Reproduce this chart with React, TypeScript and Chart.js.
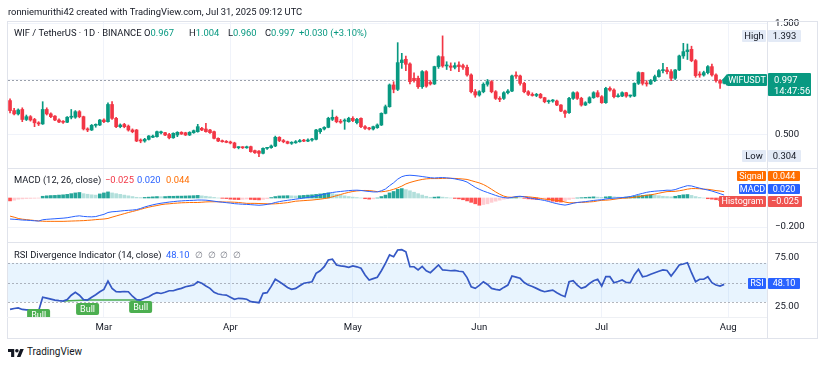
import React, { useEffect, useRef } from 'react';
import { Chart, registerables } from 'chart.js';

Chart.register(...registerables);

// ---------- DATA (daily, Feb 6 2025 -> Jul 31 2025) ----------
const opens = [
  0.81,0.72,0.69,0.73,0.64,0.665,0.64,0.61,0.60,0.73,
  0.69,0.67,0.635,0.62,0.615,0.66,0.66,0.71,0.665,0.555,
  0.545,0.587,0.59,0.635,0.62,0.775,0.65,0.575,0.595,0.58,
  0.545,0.545,0.455,0.446,0.461,0.48,0.485,0.52,0.521,0.505,
  0.475,0.50,0.524,0.52,0.50,0.521,0.53,0.56,0.554,0.545,
  0.53,0.47,0.446,0.44,0.434,0.428,0.386,0.387,0.385,0.395,
  0.359,0.355,0.335,0.38,0.386,0.401,0.479,0.45,0.44,0.425,
  0.43,0.44,0.45,0.445,0.455,0.461,0.53,0.554,0.569,0.641,
  0.659,0.62,0.625,0.62,0.65,0.611,0.65,0.575,0.56,0.554,
  0.566,0.59,0.695,0.755,0.951,0.911,1.152,1.182,1.14,1.011,
  1.011,0.935,1.071,0.975,0.96,1.116,1.206,1.122,1.122,1.11,
  1.131,1.125,1.11,1.041,0.89,0.86,0.89,0.957,0.981,0.89,
  0.83,0.83,0.881,0.896,1.032,1.032,0.965,0.89,0.866,0.856,
  0.866,0.836,0.80,0.806,0.806,0.77,0.716,0.701,0.83,0.881,
  0.83,0.77,0.791,0.836,0.881,0.845,0.791,0.92,0.905,0.845,
  0.851,0.881,0.851,0.851,0.965,1.062,0.965,0.96,0.99,1.026,
  1.08,1.086,1.071,1.011,1.086,1.212,1.251,1.272,1.17,1.045,
  1.04,1.062,1.116,1.041,0.99,0.967,
];
const highs = [
  0.825,0.74,0.735,0.745,0.68,0.675,0.65,0.62,0.80,0.745,
  0.70,0.675,0.645,0.63,0.665,0.73,0.72,0.72,0.67,0.565,
  0.595,0.60,0.64,0.645,0.79,0.80,0.66,0.60,0.605,0.59,
  0.555,0.55,0.465,0.47,0.495,0.50,0.535,0.535,0.525,0.515,
  0.52,0.53,0.53,0.525,0.53,0.545,0.596,0.57,0.605,0.55,
  0.535,0.475,0.455,0.45,0.445,0.435,0.395,0.395,0.40,0.40,
  0.365,0.36,0.385,0.39,0.41,0.49,0.485,0.46,0.445,0.44,
  0.45,0.46,0.46,0.465,0.47,0.55,0.56,0.575,0.66,0.725,
  0.67,0.64,0.645,0.66,0.665,0.65,0.655,0.585,0.57,0.58,
  0.60,0.70,0.77,0.96,0.98,1.332,1.236,1.21,1.15,1.06,
  1.03,1.08,1.08,0.99,1.12,1.215,1.393,1.16,1.15,1.15,
  1.16,1.14,1.13,1.05,0.91,0.90,0.97,1.0,0.99,0.90,
  0.845,0.89,0.91,1.04,1.07,1.04,0.975,0.90,0.88,0.875,
  0.875,0.84,0.815,0.82,0.815,0.775,0.725,0.84,0.89,0.89,
  0.84,0.80,0.845,0.89,0.90,0.855,0.93,0.935,0.915,0.87,
  0.89,0.885,0.86,0.97,1.07,1.065,0.99,1.0,1.04,1.09,
  1.146,1.11,1.09,1.09,1.22,1.326,1.32,1.30,1.18,1.07,
  1.075,1.125,1.14,1.05,1.0,1.004,
];
const lows = [
  0.70,0.68,0.68,0.62,0.63,0.625,0.575,0.585,0.595,0.68,
  0.655,0.63,0.61,0.605,0.61,0.645,0.65,0.655,0.545,0.53,
  0.54,0.57,0.585,0.61,0.615,0.64,0.565,0.565,0.565,0.535,
  0.52,0.44,0.43,0.435,0.455,0.475,0.48,0.51,0.495,0.465,
  0.47,0.485,0.505,0.495,0.495,0.515,0.525,0.54,0.525,0.515,
  0.465,0.44,0.435,0.43,0.42,0.38,0.375,0.378,0.38,0.345,
  0.335,0.304,0.33,0.37,0.38,0.395,0.44,0.43,0.42,0.415,
  0.425,0.435,0.44,0.44,0.445,0.455,0.515,0.545,0.565,0.63,
  0.61,0.605,0.551,0.615,0.62,0.60,0.565,0.55,0.545,0.545,
  0.56,0.585,0.69,0.75,0.88,0.90,1.10,1.08,0.96,0.975,
  0.92,0.92,0.93,0.95,0.955,1.10,1.11,1.09,1.08,1.095,
  1.07,1.09,1.03,0.88,0.84,0.85,0.88,0.94,0.88,0.82,
  0.80,0.82,0.87,0.89,1.01,0.95,0.88,0.855,0.85,0.845,
  0.83,0.79,0.785,0.795,0.765,0.71,0.659,0.695,0.82,0.82,
  0.76,0.765,0.785,0.83,0.84,0.785,0.785,0.895,0.835,0.84,
  0.845,0.84,0.84,0.845,0.955,0.95,0.94,0.955,0.98,1.02,
  1.06,1.05,0.99,1.0,1.08,1.19,1.18,1.16,1.02,1.02,
  1.03,1.05,1.03,0.975,0.92,0.96,
];
const closes = [
  0.72,0.69,0.725,0.64,0.665,0.635,0.61,0.60,0.73,0.69,
  0.665,0.635,0.617,0.615,0.66,0.66,0.71,0.665,0.555,0.545,
  0.587,0.59,0.635,0.62,0.775,0.65,0.575,0.59,0.575,0.545,
  0.53,0.446,0.446,0.461,0.491,0.49,0.53,0.521,0.50,0.475,
  0.515,0.524,0.509,0.50,0.524,0.539,0.575,0.545,0.53,0.521,
  0.47,0.446,0.44,0.434,0.428,0.386,0.387,0.385,0.39,0.35,
  0.34,0.335,0.38,0.386,0.401,0.479,0.45,0.44,0.425,0.43,
  0.44,0.45,0.445,0.455,0.461,0.545,0.554,0.569,0.65,0.659,
  0.62,0.615,0.63,0.65,0.63,0.641,0.575,0.56,0.555,0.575,
  0.59,0.695,0.755,0.951,0.911,1.152,1.176,1.137,0.981,0.99,
  0.935,1.071,0.94,0.96,1.116,1.206,1.122,1.125,1.11,1.125,
  1.116,1.11,1.041,0.89,0.86,0.89,0.957,0.981,0.89,0.83,
  0.821,0.881,0.896,1.032,1.03,0.965,0.89,0.866,0.856,0.866,
  0.836,0.80,0.806,0.806,0.77,0.716,0.695,0.83,0.881,0.83,
  0.77,0.791,0.836,0.881,0.845,0.791,0.92,0.905,0.845,0.851,
  0.881,0.851,0.851,0.965,1.062,0.965,0.96,0.99,1.026,1.08,
  1.082,1.071,1.011,1.086,1.212,1.251,1.266,1.17,1.035,1.04,
  1.062,1.116,1.041,0.99,0.967,0.997,
];
const macdLine = [
  -0.145,-0.147,-0.149,-0.152,-0.153,-0.155,-0.157,-0.159,-0.15,-0.147,
  -0.145,-0.143,-0.141,-0.139,-0.136,-0.131,-0.126,-0.123,-0.127,-0.129,
  -0.13,-0.128,-0.12,-0.113,-0.1,-0.095,-0.093,-0.09,-0.087,-0.085,
  -0.083,-0.08,-0.072,-0.062,-0.054,-0.047,-0.041,-0.036,-0.032,-0.028,
  -0.025,-0.022,-0.02,-0.018,-0.017,-0.016,-0.014,-0.014,-0.015,-0.018,
  -0.022,-0.026,-0.029,-0.032,-0.035,-0.039,-0.041,-0.043,-0.044,-0.046,
  -0.048,-0.05,-0.048,-0.044,-0.039,-0.031,-0.025,-0.02,-0.016,-0.012,
  -0.008,-0.004,0,0.004,0.008,0.014,0.02,0.026,0.032,0.038,
  0.042,0.045,0.048,0.051,0.053,0.054,0.052,0.048,0.045,0.042,
  0.042,0.05,0.062,0.085,0.105,0.13,0.147,0.155,0.157,0.155,
  0.152,0.148,0.144,0.14,0.138,0.14,0.141,0.139,0.136,0.132,
  0.126,0.12,0.11,0.092,0.074,0.06,0.048,0.038,0.028,0.018,
  0.009,0.003,0,0.004,0.01,0.012,0.008,0.002,-0.003,-0.008,
  -0.012,-0.017,-0.024,-0.032,-0.039,-0.045,-0.049,-0.044,-0.036,-0.031,
  -0.028,-0.025,-0.021,-0.017,-0.014,-0.012,-0.007,-0.003,-0.001,0.001,
  0.003,0.006,0.01,0.017,0.025,0.032,0.039,0.044,0.047,0.049,
  0.051,0.054,0.053,0.058,0.068,0.077,0.085,0.083,0.075,0.068,
  0.061,0.055,0.048,0.039,0.03,0.02,
];
const signalLine = [
  -0.125,-0.132,-0.141,-0.146,-0.149,-0.152,-0.155,-0.158,-0.16,-0.161,
  -0.161,-0.161,-0.161,-0.161,-0.16,-0.159,-0.158,-0.157,-0.156,-0.154,
  -0.152,-0.149,-0.147,-0.145,-0.141,-0.132,-0.124,-0.116,-0.108,-0.1,
  -0.093,-0.086,-0.078,-0.07,-0.063,-0.057,-0.052,-0.046,-0.042,-0.04,
  -0.037,-0.035,-0.033,-0.032,-0.031,-0.031,-0.031,-0.029,-0.027,-0.026,
  -0.026,-0.026,-0.027,-0.028,-0.028,-0.029,-0.031,-0.034,-0.037,-0.037,
  -0.037,-0.038,-0.039,-0.04,-0.041,-0.04,-0.038,-0.035,-0.032,-0.027,
  -0.022,-0.02,-0.018,-0.016,-0.014,-0.011,-0.008,-0.004,0.001,0.008,
  0.016,0.024,0.032,0.039,0.045,0.049,0.051,0.052,0.051,0.048,
  0.044,0.043,0.046,0.052,0.06,0.07,0.082,0.097,0.107,0.115,
  0.122,0.128,0.132,0.134,0.134,0.134,0.135,0.136,0.136,0.135,
  0.133,0.131,0.128,0.12,0.112,0.104,0.093,0.078,0.06,0.042,
  0.026,0.013,0.006,0.005,0.007,0.01,0.01,0.008,0.005,0.002,
  -0.003,-0.008,-0.01,-0.013,-0.016,-0.02,-0.028,-0.033,-0.033,-0.031,
  -0.03,-0.029,-0.027,-0.025,-0.02,-0.016,-0.015,-0.013,-0.009,-0.005,
  -0.002,0,0.002,0.005,0.009,0.014,0.019,0.022,0.027,0.033,
  0.039,0.044,0.045,0.046,0.05,0.055,0.061,0.065,0.065,0.064,
  0.061,0.06,0.056,0.051,0.048,0.044,
];
const macdHist = [
  -0.02,-0.015,-0.008,-0.006,-0.004,-0.003,-0.002,-0.001,0.012,0.015,
  0.017,0.018,0.02,0.022,0.025,0.03,0.035,0.038,0.03,0.026,
  0.022,0.02,0.028,0.035,0.042,0.035,0.03,0.025,0.02,0.015,
  0.01,0.005,0.003,0.004,0.006,0.008,0.01,0.009,0.01,0.012,
  0.012,0.013,0.013,0.014,0.015,0.016,0.018,0.015,0.012,0.008,
  0.004,0,-0.002,-0.004,-0.008,-0.01,-0.011,-0.009,-0.007,-0.01,
  -0.012,-0.013,-0.01,-0.005,0.003,0.01,0.014,0.015,0.016,0.015,
  0.014,0.016,0.018,0.02,0.022,0.025,0.028,0.032,0.036,0.03,
  0.025,0.02,0.015,0.01,0.006,0.003,0,-0.005,-0.008,-0.006,
  0,0.01,0.02,0.035,0.045,0.06,0.065,0.058,0.05,0.04,
  0.03,0.02,0.012,0.005,0.006,0.008,0.006,0.003,0,-0.003,
  -0.006,-0.012,-0.02,-0.03,-0.04,-0.05,-0.045,-0.04,-0.03,-0.022,
  -0.015,-0.008,-0.004,0,0.003,0.002,-0.002,-0.006,-0.008,-0.01,
  -0.009,-0.008,-0.015,-0.022,-0.026,-0.028,-0.02,-0.01,-0.004,0,
  0.002,0.004,0.006,0.008,0.006,0.004,0.008,0.01,0.008,0.006,
  0.005,0.006,0.008,0.012,0.016,0.018,0.02,0.022,0.02,0.016,
  0.012,0.01,0.008,0.012,0.018,0.022,0.024,0.018,0.01,0.004,
  0,-0.005,-0.008,-0.012,-0.018,-0.025,
];
const rsiValues = [
  22.6,23.5,24,22.5,22,22,21.5,21,35,34,
  33,32,31.5,31.1,32.5,37,40,37,32.5,32.1,
  35,37.5,40.6,43,51.5,44,40.6,40.5,40.8,40.6,
  36,32.5,32.1,34,35.5,38,39.6,38.8,40,41.6,
  41.6,43,44,45.7,46.5,47.4,50.8,49.2,46.5,44,
  40,38.3,37.5,37.2,35,32.9,33.9,33.5,32.9,30.4,
  30,29.4,39,39.6,46,53.3,50.8,48,45,43,
  44,46.7,49.2,50,50.8,59.4,62,66.1,73,73.7,
  67.9,67,66.5,65.5,67,66,64.5,57.7,52.6,54,
  55.3,62,69.6,78.1,76.3,83.2,83.5,81.4,66.1,66.1,
  62.8,66.5,62,60,64,67.9,62.8,62.5,62,62.3,
  61.5,61,55,45.7,44,47,50.8,48,44,43,
  42.3,45,47.4,56.6,55.5,54.3,50,47.4,46,44,
  42,40.6,41.5,42.3,39.5,37.2,35.5,50.8,51.8,47.4,
  44,45.5,49,51.8,53.3,46.4,55.9,55.9,49.8,51,
  52.6,50,49.8,58,63.5,55.9,56.6,58.5,60,61.5,
  62.8,62.3,56.6,62,67.9,68.9,70.2,60,50.8,53.3,
  53.3,55.9,49.8,47.4,46.4,48.1,
];
const monthTickIdx = [23, 54, 84, 115, 145, 176];
const monthLabels = ['Mar', 'Apr', 'May', 'Jun', 'Jul', 'Aug'];
const priceTicks = [0.5, 1.0, 1.5];
const macdTicks = [-0.2];
const rsiTicks = [75, 25];
const rsiLevels = [70, 50, 30];
const bullIdx = [7, 19, 32];
const bullLabelTop = [23, 29, 31];
const bullLineIdx = [13, 19, 32];
const bullLineVal = [31.1, 32.1, 32.1];

// ---------- STYLE ----------
const GREEN = '#089981';
const RED = '#F23645';
const BLUE = '#2962FF';
const ORANGE = '#FF6D00';
const TEXT = '#131722';
const FONT = "Roboto, 'Noto Sans', sans-serif";
const GRID = '#f0f3fa';
const BORDER = '#e0e3eb';
const LEG = 9.4;

Chart.defaults.font.family = FONT;

const idxs = closes.map((_, i) => i);
const candleColors = idxs.map((i) => (closes[i] >= opens[i] ? GREEN : RED));
const histColors = macdHist.map((v, i) => {
  const prev = i > 0 ? macdHist[i - 1] : v;
  if (v >= 0) return v >= prev ? '#26A69A' : '#B2DFDB';
  return v <= prev ? '#FF5252' : '#FFCDD2';
});

function zeroPad(s: any) {
  s.paddingTop = 0;
  s.paddingBottom = 0;
  s.paddingLeft = 0;
  s.paddingRight = 0;
}

function xAxis(showLabels: boolean): any {
  return {
    type: 'linear',
    min: -0.5,
    max: 185.5,
    offset: false,
    position: 'bottom',
    afterBuildTicks: (s: any) => {
      s.ticks = monthTickIdx.map((v) => ({ value: v }));
    },
    afterFit: (s: any) => {
      s.height = showLabels ? 21 : 0;
      zeroPad(s);
    },
    grid: { color: GRID, drawTicks: false, lineWidth: 1, offset: false },
    border: { display: false },
    ticks: {
      display: showLabels,
      autoSkip: false,
      maxRotation: 0,
      padding: 5,
      color: TEXT,
      font: { family: FONT, size: 9.6 },
      callback: (v: number) => {
        const k = monthTickIdx.indexOf(v);
        return k >= 0 ? monthLabels[k] : '';
      },
    },
  };
}

function yAxis(min: number, max: number, ticks: number[], fmt: (v: number) => string, grid: boolean): any {
  return {
    type: 'linear',
    position: 'right',
    min,
    max,
    afterBuildTicks: (s: any) => {
      s.ticks = ticks.map((v) => ({ value: v }));
    },
    afterFit: (s: any) => {
      s.width = 58;
      zeroPad(s);
    },
    grid: { display: grid, color: GRID, drawTicks: false },
    border: { display: false },
    ticks: { padding: 8, color: TEXT, font: { family: FONT, size: 9.6 }, callback: fmt },
  };
}

const common: any = {
  responsive: false,
  animation: false,
  devicePixelRatio: 1,
  events: [],
  plugins: { legend: { display: false }, tooltip: { enabled: false } },
};

const priceLinePlugin = {
  id: 'priceLine',
  beforeDatasetsDraw(chart: any) {
    const { ctx, chartArea: a, scales } = chart;
    const y = Math.round(scales.y.getPixelForValue(closes[closes.length - 1])) + 0.5;
    ctx.save();
    ctx.strokeStyle = '#9aa0ab';
    ctx.lineWidth = 1;
    ctx.setLineDash([2, 2]);
    ctx.beginPath();
    ctx.moveTo(a.left, y);
    ctx.lineTo(a.right, y);
    ctx.stroke();
    ctx.restore();
  },
};

const rsiBandPlugin = {
  id: 'rsiBand',
  beforeDatasetsDraw(chart: any) {
    const { ctx, chartArea: a, scales } = chart;
    const yS = scales.y;
    const top = yS.getPixelForValue(rsiLevels[0]);
    const bot = yS.getPixelForValue(rsiLevels[2]);
    ctx.save();
    ctx.fillStyle = 'rgba(33,150,243,0.1)';
    ctx.fillRect(a.left, top, a.right - a.left, bot - top);
    ctx.strokeStyle = 'rgba(120,123,134,0.55)';
    ctx.lineWidth = 1;
    ctx.setLineDash([2, 2]);
    rsiLevels.forEach((lv) => {
      const y = Math.round(yS.getPixelForValue(lv)) + 0.5;
      ctx.beginPath();
      ctx.moveTo(a.left, y);
      ctx.lineTo(a.right, y);
      ctx.stroke();
    });
    ctx.restore();
  },
};

const bullPlugin = {
  id: 'bullLabels',
  afterDatasetsDraw(chart: any) {
    const { ctx, chartArea: a, scales } = chart;
    ctx.save();
    ctx.beginPath();
    ctx.rect(a.left, a.top, a.right - a.left, a.bottom - a.top);
    ctx.clip();
    bullIdx.forEach((i, k) => {
      const cx = scales.x.getPixelForValue(i);
      const py = scales.y.getPixelForValue(bullLabelTop[k]);
      const w = 23;
      const h = 12;
      ctx.fillStyle = '#4CAF50';
      ctx.beginPath();
      (ctx as any).roundRect(cx - w / 2, py, w, h, 2);
      ctx.fill();
      ctx.fillStyle = '#ffffff';
      ctx.font = `9px ${FONT}`;
      ctx.textAlign = 'center';
      ctx.textBaseline = 'middle';
      ctx.fillText('Bull', cx, py + h / 2 + 0.5);
    });
    ctx.restore();
  },
};

function Txt(props: { x: number; y: number; color?: string; size?: number; children: any }) {
  const { x, y, color = TEXT, size = LEG, children } = props;
  return (
    <div
      style={{
        position: 'absolute',
        left: x,
        top: y - 7,
        height: 14,
        lineHeight: '14px',
        fontSize: size,
        color,
        whiteSpace: 'nowrap',
        fontFamily: FONT,
      }}
    >
      {children}
    </div>
  );
}

function Box(props: { x: number; y: number; w: number; h: number; bg: string; color?: string; size?: number; children?: any }) {
  const { x, y, w, h, bg, color = '#fff', size = 9.4, children } = props;
  return (
    <div
      style={{
        position: 'absolute',
        left: x,
        top: y,
        width: w,
        height: h,
        background: bg,
        color,
        fontSize: size,
        lineHeight: `${h}px`,
        textAlign: 'center',
        whiteSpace: 'nowrap',
        fontFamily: FONT,
        borderRadius: 1,
        overflow: 'visible',
      }}
    >
      {children}
    </div>
  );
}

function Line(props: { x: number; y: number; w: number; h: number; c?: string }) {
  const { x, y, w, h, c = BORDER } = props;
  return <div style={{ position: 'absolute', left: x, top: y, width: w, height: h, background: c }} />;
}

export default function App() {
  const priceRef = useRef<HTMLCanvasElement>(null);
  const macdRef = useRef<HTMLCanvasElement>(null);
  const rsiRef = useRef<HTMLCanvasElement>(null);

  useEffect(() => {
    const charts: any[] = [];
    const bodyData = idxs.map((i) => ({ x: i, y: [opens[i], closes[i]] }));
    const wickData = idxs.map((i) => ({ x: i, y: [lows[i], highs[i]] }));

    charts.push(
      new Chart(priceRef.current as HTMLCanvasElement, {
        type: 'bar',
        data: {
          datasets: [
            { type: 'bar', data: wickData as any, backgroundColor: candleColors, barThickness: 1, grouped: false, order: 2 } as any,
            { type: 'bar', data: bodyData as any, backgroundColor: candleColors, barThickness: 3, grouped: false, minBarLength: 1, order: 1 } as any,
          ],
        },
        options: {
          ...common,
          layout: { padding: { left: 8, right: 0, top: 21, bottom: 0 }, autoPadding: false },
          scales: {
            x: xAxis(false),
            y: yAxis(0.2027, 1.527, priceTicks, (v: number) => v.toFixed(3), true),
          },
        },
        plugins: [priceLinePlugin],
      })
    );

    charts.push(
      new Chart(macdRef.current as HTMLCanvasElement, {
        type: 'bar',
        data: {
          datasets: [
            {
              type: 'bar',
              data: idxs.map((i) => ({ x: i, y: macdHist[i] })) as any,
              backgroundColor: histColors,
              barThickness: 3,
              grouped: false,
              order: 3,
            } as any,
            {
              type: 'line',
              data: idxs.map((i) => ({ x: i, y: signalLine[i] })) as any,
              borderColor: ORANGE,
              borderWidth: 1,
              pointRadius: 0,
              tension: 0,
              order: 2,
            } as any,
            {
              type: 'line',
              data: idxs.map((i) => ({ x: i, y: macdLine[i] })) as any,
              borderColor: BLUE,
              borderWidth: 1,
              pointRadius: 0,
              tension: 0,
              order: 1,
            } as any,
          ],
        },
        options: {
          ...common,
          layout: { padding: { left: 8, right: 0, top: 0, bottom: 0 }, autoPadding: false },
          scales: {
            x: xAxis(false),
            y: yAxis(-0.3034, 0.2069, macdTicks, (v: number) => (v < 0 ? '\u2212' : '') + Math.abs(v).toFixed(3), true),
          },
        },
      })
    );

    charts.push(
      new Chart(rsiRef.current as HTMLCanvasElement, {
        type: 'line',
        data: {
          datasets: [
            {
              data: idxs.map((i) => ({ x: i, y: rsiValues[i] })) as any,
              borderColor: '#3558c4',
              borderWidth: 1.7,
              pointRadius: 0,
              tension: 0,
              order: 1,
            } as any,
            {
              data: bullLineIdx.map((x, k) => ({ x, y: bullLineVal[k] })) as any,
              borderColor: '#4CAF50',
              borderWidth: 1.6,
              pointRadius: 0,
              tension: 0,
              order: 2,
            } as any,
          ],
        },
        options: {
          ...common,
          layout: { padding: { left: 8, right: 0, top: 0, bottom: 0 }, autoPadding: false },
          scales: {
            x: xAxis(true),
            y: yAxis(14.8, 90.31, rsiTicks, (v: number) => v.toFixed(2), false),
          },
        },
        plugins: [rsiBandPlugin, bullPlugin],
      })
    );

    return () => charts.forEach((c) => c.destroy());
  }, []);

  return (
    <div
      style={{
        position: 'fixed',
        left: 0,
        top: 0,
        width: 825,
        height: 365,
        background: '#ffffff',
        overflow: 'hidden',
        fontFamily: FONT,
      }}
    >
      <canvas ref={priceRef} width={825} height={168} style={{ position: 'absolute', left: 0, top: 0, width: 825, height: 168 }} />
      <canvas ref={macdRef} width={825} height={74} style={{ position: 'absolute', left: 0, top: 168, width: 825, height: 74 }} />
      <canvas ref={rsiRef} width={825} height={95} style={{ position: 'absolute', left: 0, top: 243, width: 825, height: 95 }} />

      {/* frame and separators */}
      <Line x={7} y={21} w={811} h={1} />
      <Line x={7} y={338} w={811} h={1} />
      <Line x={7} y={21} w={1} h={318} />
      <Line x={817} y={21} w={1} h={318} />
      <Line x={767} y={21} w={1} h={317} />
      <Line x={7} y={168} w={811} h={1} />
      <Line x={7} y={242} w={811} h={1} />
      <Line x={7} y={317} w={760} h={1} c="#eef0f4" />

      {/* header */}
      <Txt x={8} y={12}>ronniemurithi42 created with TradingView.com, Jul 31, 2025 09:12 UTC</Txt>

      {/* price legend */}
      <Txt x={14} y={33}>WIF / TetherUS · 1D · BINANCE</Txt>
      <Txt x={144} y={33}>O<span style={{ color: GREEN }}>0.967</span></Txt>
      <Txt x={189} y={33}>H<span style={{ color: GREEN }}>1.004</span></Txt>
      <Txt x={228} y={33}>L<span style={{ color: GREEN }}>0.960</span></Txt>
      <Txt x={265} y={33}>C<span style={{ color: GREEN }}>0.997</span></Txt>
      <Txt x={299} y={33} color={GREEN}>+0.030 (+3.10%)</Txt>

      {/* price scale labels */}
      <Box x={742} y={30} w={24} h={12} bg="#e3eaf6" color={TEXT}>High</Box>
      <Box x={768} y={30} w={33} h={12} bg="#e3eaf6" color={TEXT}>1.393</Box>
      <Box x={742} y={150} w={24} h={12} bg="#e3eaf6" color={TEXT}>Low</Box>
      <Box x={768} y={150} w={33} h={12} bg="#e3eaf6" color={TEXT}>0.304</Box>
      <div
        style={{
          position: 'absolute',
          left: 722,
          top: 74,
          width: 0,
          height: 0,
          borderTop: '6px solid transparent',
          borderBottom: '6px solid transparent',
          borderRight: `5px solid ${GREEN}`,
        }}
      />
      <Box x={727} y={74} w={40} h={12} bg={GREEN} size={9}>WIFUSDT</Box>
      <div
        style={{
          position: 'absolute',
          left: 768,
          top: 73,
          width: 43,
          height: 23,
          background: GREEN,
          color: '#fff',
          fontFamily: FONT,
          fontSize: 9.4,
          lineHeight: '11px',
          paddingTop: 1,
          boxSizing: 'border-box',
          textAlign: 'left',
          paddingLeft: 6,
          borderRadius: 1,
        }}
      >
        0.997
        <br />
        14:47:56
      </div>

      {/* MACD legend */}
      <Txt x={14} y={180}>MACD (12, 26, close)</Txt>
      <Txt x={105} y={180} color={RED}>{'\u22120.025'}</Txt>
      <Txt x={137} y={180} color={BLUE}>0.020</Txt>
      <Txt x={166} y={180} color={ORANGE}>0.044</Txt>

      {/* MACD scale labels */}
      <Box x={737} y={171} w={29} h={10} bg={ORANGE} size={9}>Signal</Box>
      <Box x={768} y={171} w={32} h={10} bg={ORANGE} size={9}>0.044</Box>
      <Box x={739} y={184} w={27} h={10} bg={BLUE} size={9}>MACD</Box>
      <Box x={768} y={184} w={32} h={10} bg={BLUE} size={9}>0.020</Box>
      <Box x={719} y={196} w={47} h={11} bg="#EF5350" size={9}>Histogram</Box>
      <Box x={768} y={196} w={34} h={11} bg="#EF5350" size={9}>{'\u22120.025'}</Box>

      {/* RSI legend */}
      <Txt x={14} y={255}>RSI Divergence Indicator (14, close)</Txt>
      <Txt x={166} y={255} color={BLUE}>48.10</Txt>
      <Txt x={195} y={255} color="#787B86">∅ &nbsp;∅ &nbsp;∅ &nbsp;∅</Txt>

      {/* RSI scale label */}
      <Box x={748} y={278} w={18} h={11} bg={BLUE} size={9}>RSI</Box>
      <Box x={768} y={278} w={32} h={11} bg={BLUE} size={9}>48.10</Box>

      {/* footer logo */}
      <svg style={{ position: 'absolute', left: 8, top: 347 }} width={16} height={10} viewBox="0 0 36 22">
        <path d="M14 22H7V11H0V4h14v18zM28 22h-8l7.5-18h8L28 22z" fill={TEXT} />
        <circle cx="20" cy="8" r="4" fill={TEXT} />
      </svg>
      <Txt x={27} y={352} size={10}>TradingView</Txt>
    </div>
  );
}
